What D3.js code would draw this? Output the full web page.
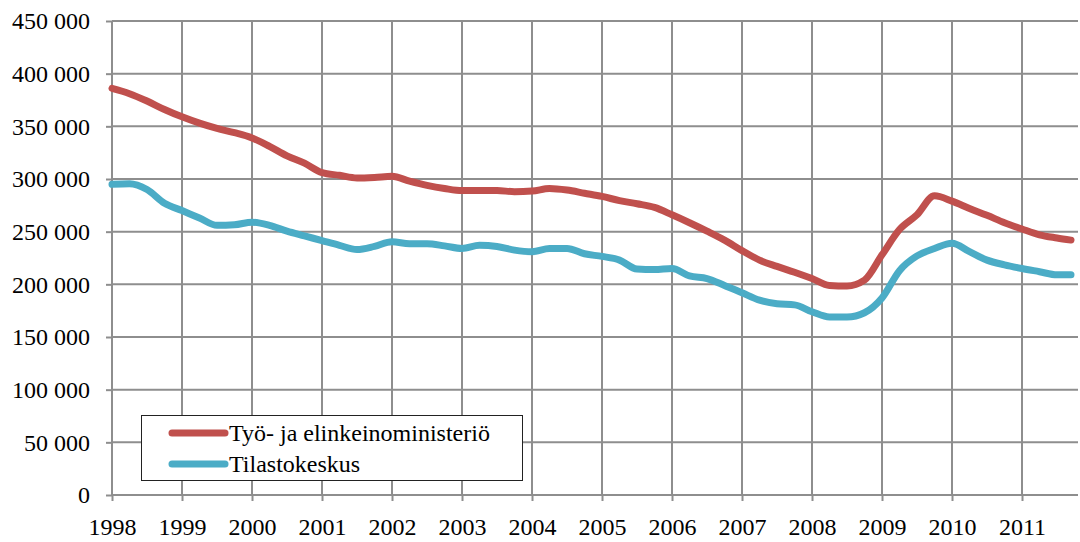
<!DOCTYPE html>
<html lang="fi">
<head>
    <meta charset="utf-8">
    <script src="https://d3js.org/d3.v7.min.js"></script>
    <style>
        body { margin: 0; background: #fff; }
        .lbl { font-family: "Liberation Serif", "Times New Roman", serif; font-size: 24px; fill: #000; }
    </style>
</head>
<body>
<script>
    const w = 1080
    const h = 542

    // time points (decimal years), quarterly
    const times = [1998.00, 1998.25, 1998.50, 1998.75, 1999.00, 1999.25, 1999.50, 1999.75,
        2000.00, 2000.25, 2000.50, 2000.75, 2001.00, 2001.25, 2001.50, 2001.75,
        2002.00, 2002.25, 2002.50, 2002.75, 2003.00, 2003.25, 2003.50, 2003.75,
        2004.00, 2004.25, 2004.50, 2004.75, 2005.00, 2005.25, 2005.50, 2005.75,
        2006.00, 2006.25, 2006.50, 2006.75, 2007.00, 2007.25, 2007.50, 2007.75,
        2008.00, 2008.25, 2008.50, 2008.75, 2009.00, 2009.25, 2009.50, 2009.75,
        2010.00, 2010.25, 2010.50, 2010.75, 2011.00, 2011.25, 2011.50, 2011.70]

    // Työ- ja elinkeinoministeriö
    const tem = [386000, 381000, 374000, 366000, 359000, 353000, 348000, 344000,
        339000, 331000, 322000, 315000, 306000, 303500, 301000, 301500,
        302500, 298000, 294000, 291000, 289000, 289000, 289000, 288000,
        288500, 291000, 289500, 286500, 283500, 279500, 276500, 273000,
        266000, 258500, 250500, 242000, 232000, 223000, 217000, 211500,
        205500, 199000, 198500, 204000, 228000, 252000, 266000, 284000,
        279000, 272000, 265500, 258500, 252500, 247000, 244000, 242000]

    // Tilastokeskus
    const tk = [295000, 295500, 290000, 277000, 270000, 263000, 256000, 256500,
        259000, 256000, 250500, 246000, 241500, 237000, 233000, 236000,
        240500, 238500, 238500, 236500, 234000, 237000, 236000, 232500,
        231000, 234000, 234000, 229000, 226500, 223000, 214500, 214000,
        215000, 208000, 205500, 199000, 192000, 185000, 181500, 180500,
        174000, 169000, 169000, 173000, 187000, 213000, 227000, 234000,
        239000, 231000, 223000, 218500, 215000, 212000, 209000, 209000]

    const years = [1998, 1999, 2000, 2001, 2002, 2003, 2004, 2005, 2006, 2007, 2008, 2009, 2010, 2011]
    const yTicks = [0, 50000, 100000, 150000, 200000, 250000, 300000, 350000, 400000, 450000]

    const seriesNames = ["Työ- ja elinkeinoministeriö", "Tilastokeskus"]
    const colors = ["#C0504D", "#4BACC6"]

    const gridColor = "#8e8e8e"
    const plotL = 112, plotR = 1078, plotT = 21, plotB = 495

    const svg = d3.select("body")
        .append("svg")
        .attr("width", w)
        .attr("height", h)

    const x = d3.scaleLinear().domain([1998, 2011.8]).range([plotL, plotR])
    const y = d3.scaleLinear().domain([0, 450000]).range([plotB, plotT])

    const fmt = d3.formatLocale({decimal: ",", thousands: "\u00a0", grouping: [3], currency: ["", ""]}).format(",")

    // y axis (ticks + labels)
    const yAxis = svg.append("g")
        .attr("transform", `translate(${plotL},0)`)
        .call(d3.axisLeft(y).tickValues(yTicks).tickFormat(fmt).tickSize(6).tickPadding(16))
    yAxis.select(".domain").remove()
    yAxis.selectAll("line").attr("stroke", gridColor).attr("stroke-width", 2)
    yAxis.selectAll("text").attr("class", "lbl").attr("font-family", "Liberation Serif").attr("font-size", 24)

    // horizontal gridlines
    svg.append("g").selectAll("line")
        .data(yTicks)
        .enter()
        .append("line")
        .attr("x1", plotL).attr("x2", plotR)
        .attr("y1", d => y(d)).attr("y2", d => y(d))
        .attr("stroke", gridColor).attr("stroke-width", 2)

    // x axis (ticks + labels)
    const xAxis = svg.append("g")
        .attr("transform", `translate(0,${plotB})`)
        .call(d3.axisBottom(x).tickValues(years).tickFormat(d3.format("d")).tickSize(6).tickPadding(17))
    xAxis.select(".domain").remove()
    xAxis.selectAll("line").attr("stroke", gridColor).attr("stroke-width", 2)
    xAxis.selectAll("text").attr("class", "lbl").attr("font-family", "Liberation Serif").attr("font-size", 24)

    // vertical gridlines
    svg.append("g").selectAll("line")
        .data(years)
        .enter()
        .append("line")
        .attr("x1", d => x(d)).attr("x2", d => x(d))
        .attr("y1", plotT).attr("y2", plotB)
        .attr("stroke", gridColor).attr("stroke-width", 2)

    // series lines
    const line = d3.line()
        .x(d => x(d[0]))
        .y(d => y(d[1]))
        .curve(d3.curveMonotoneX)

    ;[tem, tk].forEach((vals, i) => {
        svg.append("path")
            .datum(times.map((t, j) => [t, vals[j]]))
            .attr("d", line)
            .attr("fill", "none")
            .attr("stroke", colors[i])
            .attr("stroke-width", 7)
            .attr("stroke-linecap", "round")
            .attr("stroke-linejoin", "round")
    })

    // legend
    const lg = svg.append("g")
    lg.append("rect")
        .attr("x", 141.5).attr("y", 415.5)
        .attr("width", 381).attr("height", 65)
        .attr("fill", "#fff").attr("stroke", "#222").attr("stroke-width", 1)

    seriesNames.forEach((s, i) => {
        const ly = 433 + i * 31
        lg.append("line")
            .attr("x1", 172).attr("x2", 225)
            .attr("y1", ly).attr("y2", ly)
            .attr("stroke", colors[i]).attr("stroke-width", 7)
            .attr("stroke-linecap", "round")
        lg.append("text")
            .attr("class", "lbl")
            .attr("x", 229).attr("y", ly)
            .attr("dy", "0.35em")
            .text(s)
    })
</script>
</body>
</html>
